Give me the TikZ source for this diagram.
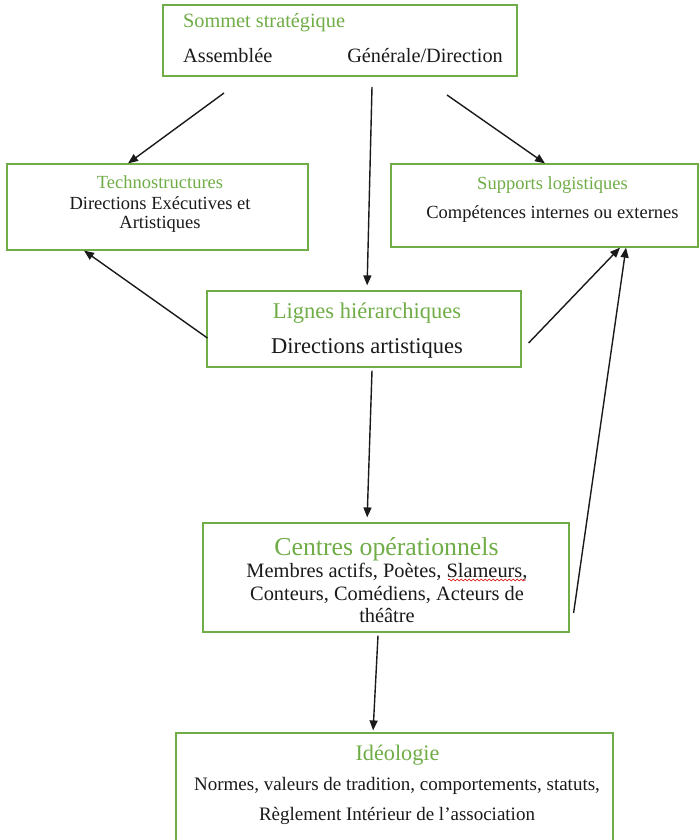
\documentclass[tikz,border=0pt]{standalone}
\usepackage{fontspec}
\setmainfont{Liberation Serif}
\usepackage{xcolor}
\usepackage{tikz}
\usetikzlibrary{calc,arrows.meta,decorations.pathmorphing}
\definecolor{frame}{HTML}{70AD47}
\definecolor{title}{HTML}{70AD47}
\definecolor{ink}{HTML}{1A1A1A}
\tikzset{
  box/.style={draw=frame, line width=1.2pt, rectangle, inner sep=0pt},
  ttl/.style={text=title, anchor=base, inner sep=0pt},
  txt/.style={text=ink, anchor=base, inner sep=0pt},
  arr/.style={draw=ink, line width=1.4pt, -{Triangle[length=10pt,width=8pt]}},
  spell/.style={draw=red!85!black, line width=0.6pt, decorate,
    decoration={snake, amplitude=1pt, segment length=4pt}}
}

\begin{document}
\begin{tikzpicture}[x=1pt,y=-1pt]
  \useasboundingbox[fill=white] (0,0) rectangle (700,840);

  % boxes
  \node[box, minimum width=354pt, minimum height=71pt] (sommet) at (340,40.5) {};
  \node[box, minimum width=301pt, minimum height=86pt] (techno) at (157.5,207) {};
  \node[box, minimum width=307pt, minimum height=83pt] (support) at (544.5,205.5) {};
  \node[box, minimum width=314pt, minimum height=76pt] (lignes) at (364,329) {};
  \node[box, minimum width=366pt, minimum height=109pt] (centres) at (386,577.5) {};
  \node[box, minimum width=437pt, minimum height=120pt] (ideo) at (394.5,793) {};

  % texts
  \node[ttl, anchor=base west, font=\fontsize{20.3}{24}\selectfont] (sommet-t) at (183,28) {Sommet stratégique};
  \node[txt, anchor=base west, font=\fontsize{20.3}{24}\selectfont] (sommet-a) at (183,63) {Assemblée};
  \node[txt, anchor=base east, font=\fontsize{20.3}{24}\selectfont] (sommet-b) at (503,63) {Générale/Direction};

  \node[ttl, font=\fontsize{18.5}{22}\selectfont] (techno-t) at (160,188) {Technostructures};
  \node[txt, font=\fontsize{18.5}{22}\selectfont] (techno-a) at (160,209) {Directions Exécutives et};
  \node[txt, font=\fontsize{18.5}{22}\selectfont] (techno-b) at (160,228) {Artistiques};

  \node[ttl, font=\fontsize{18.5}{22}\selectfont] (support-t) at (552.5,189) {Supports logistiques};
  \node[txt, font=\fontsize{18.5}{22}\selectfont] (support-a) at (552.5,218) {Compétences internes ou externes};

  \node[ttl, font=\fontsize{22.5}{26}\selectfont] (lignes-t) at (367,318) {Lignes hiérarchiques};
  \node[txt, font=\fontsize{22.5}{26}\selectfont] (lignes-a) at (367,353) {Directions artistiques};

  \node[ttl, font=\fontsize{25.8}{30}\selectfont] (centres-t) at (386.5,555) {Centres opérationnels};
  \node[txt, font=\fontsize{20.4}{24}\selectfont] (centres-a) at (387,577) {Membres actifs, Poètes, Slameurs,};
  \node[txt, font=\fontsize{20.4}{24}\selectfont] (centres-b) at (387,600) {Conteurs, Comédiens, Acteurs de};
  \node[txt, font=\fontsize{20.4}{24}\selectfont] (centres-c) at (387,622) {théâtre};
  \draw[spell] (448,580) -- (526,580);

  \node[ttl, font=\fontsize{22.2}{26}\selectfont] (ideo-t) at (397.5,760) {Idéologie};
  \node[txt, font=\fontsize{19}{23}\selectfont] (ideo-a) at (397,790) {Normes, valeurs de tradition, comportements, statuts,};
  \node[txt, font=\fontsize{19}{23}\selectfont] (ideo-b) at (397,820) {Règlement Intérieur de l’association};

  % free ends of the connectors
  \coordinate (s1) at (224,93);
  \coordinate (s2) at (372,87);
  \coordinate (s3) at (447,95);

  % connectors
  \draw[arr] (s1) -- ($(techno.north)+(-29.5,0)$);
  \draw[arr, shorten >=5pt] (s2) -- ($(lignes.north)+(3,0)$);
  \draw[arr] (s3) -- ($(support.north)+(0.5,0)$);
  \draw[arr] ($(lignes.west)+(1,9)$) -- ($(techno.south)+(-73.5,0)$);
  \draw[arr] ($(lignes.east)+(7,14)$) -- ($(support.south)+(75.5,0)$);
  \draw[arr, shorten >=5pt] ($(lignes.south)+(8,3)$) -- ($(centres.north)+(-19,0)$);
  \draw[arr] ($(centres.east)+(4,35.5)$) -- ($(support.south)+(81.5,0)$);
  \draw[arr, shorten >=2pt] ($(centres.south)+(-8,3)$) -- ($(ideo.north)+(-21.5,0)$);
\end{tikzpicture}
\end{document}
